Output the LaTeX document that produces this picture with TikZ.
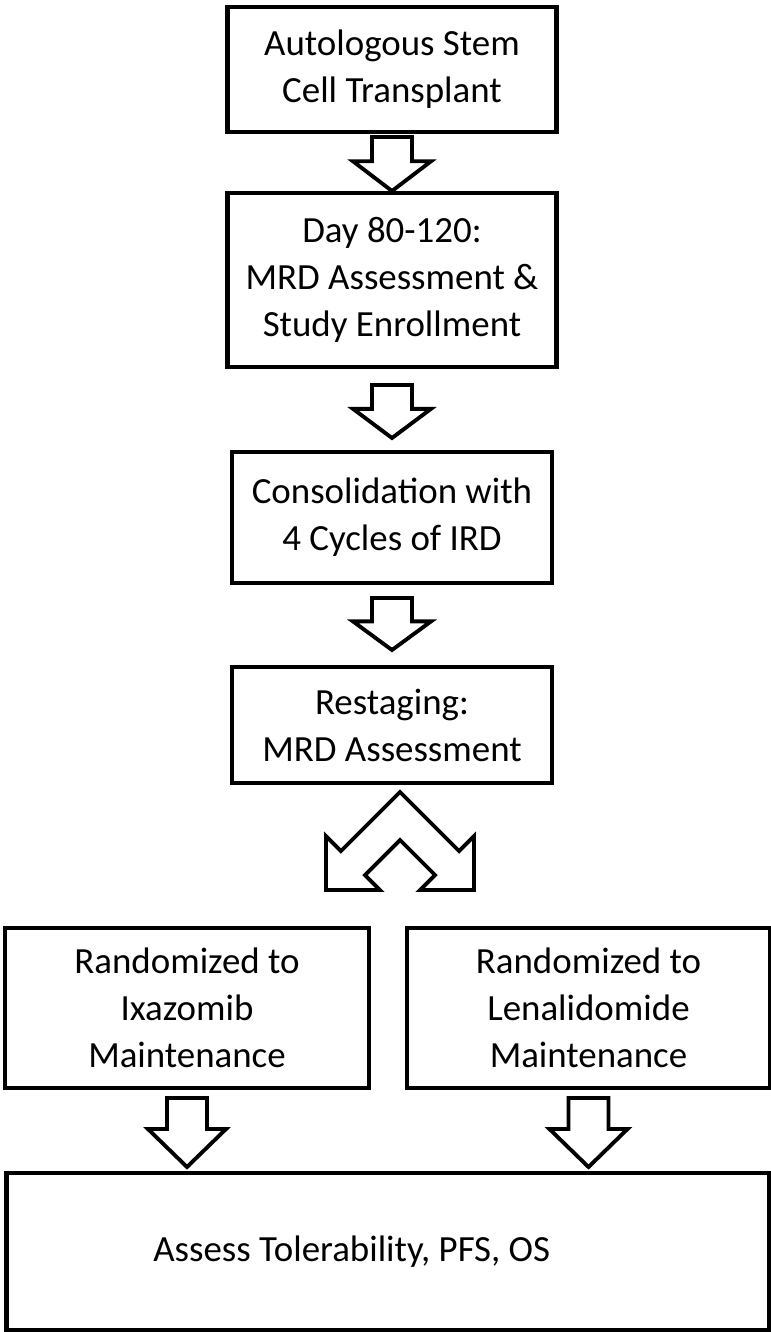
\documentclass[tikz,border=0pt]{standalone}
\usepackage{fontspec}
\setmainfont{Carlito}
\usepackage{tikz}
\usetikzlibrary{positioning,calc}

% hollow block arrow from one box down to the next
\newcommand{\blockarrow}[4]{%
  \draw[blockarr] let \p1=($(#1.south)+(0,-#3)$), \p2=($(#2.north)+(0,#4)$), \p3=($(\p2)!0.55!(\p1)$) in
    (\x1-0.4cm,\y1) -- (\x1+0.4cm,\y1) -- (\x1+0.4cm,\y3) -- (\x1+0.78cm,\y3)
    -- (\x1,\y2) -- (\x1-0.78cm,\y3) -- (\x1-0.4cm,\y3) -- cycle;}

\begin{document}
\begin{tikzpicture}[every node/.style={font=\fontsize{21}{26.8}\selectfont}]
\tikzset{stagebox/.style={draw, line width=2.6pt, minimum width=6.58cm, align=center, outer sep=0pt, inner sep=2pt}}
\tikzset{blockarr/.style={draw, fill=white, line width=2.2pt}}
\useasboundingbox (0,0) rectangle (15.42,-26.64);
\node[stagebox, minimum height=2.5cm] (transplant) at (7.84,-1.39) {Autologous Stem\\Cell Transplant};
\node[stagebox, minimum height=3.48cm, below=1.22cm of transplant] (enroll) {Day 80-120:\\MRD Assessment \&\\Study Enrollment};
\node[stagebox, minimum width=6.4cm, minimum height=2.62cm, below=1.7cm of enroll] (consol) {Consolidation with\\4 Cycles of IRD};
\node[stagebox, minimum width=6.4cm, minimum height=2.32cm, below=1.68cm of consol] (restage) {Restaging:\\MRD Assessment};
\node[stagebox, minimum width=7.28cm, minimum height=3.2cm] (ixa) at (3.74,-20.16) {Randomized to\\Ixazomib\\Maintenance};
\node[stagebox, minimum width=7.26cm, minimum height=3.2cm, right=0.76cm of ixa] (lena) {Randomized to\\Lenalidomide\\Maintenance};
\coordinate (mid) at ($(ixa.south)!0.5!(lena.south)$);
\node[stagebox, minimum width=15.26cm, minimum height=3.14cm, below=1.7cm of mid] (assess) {Assess Tolerability, PFS, OS\hspace*{1.44cm}};
\blockarrow{transplant}{enroll}{0.1}{0.04}
\blockarrow{enroll}{consol}{0.36}{0.28}
\blockarrow{consol}{restage}{0.3}{0.34}
% split arrow under restaging
\begin{scope}[shift={($(restage.south)+(0.16,-0.18)$)}, x=0.02cm, y=-0.02cm]
\draw[blockarr] (0,0) -- (59,59) -- (74,44) -- (74,98) -- (20,98) -- (35,83) -- (0,48)
  -- (-35,83) -- (-20,98) -- (-74,98) -- (-74,44) -- (-59,59) -- cycle;
\end{scope}
\blockarrow{ixa}{assess}{0.2}{0.12}
\blockarrow{lena}{assess}{0.2}{0.12}
\end{tikzpicture}
\end{document}
